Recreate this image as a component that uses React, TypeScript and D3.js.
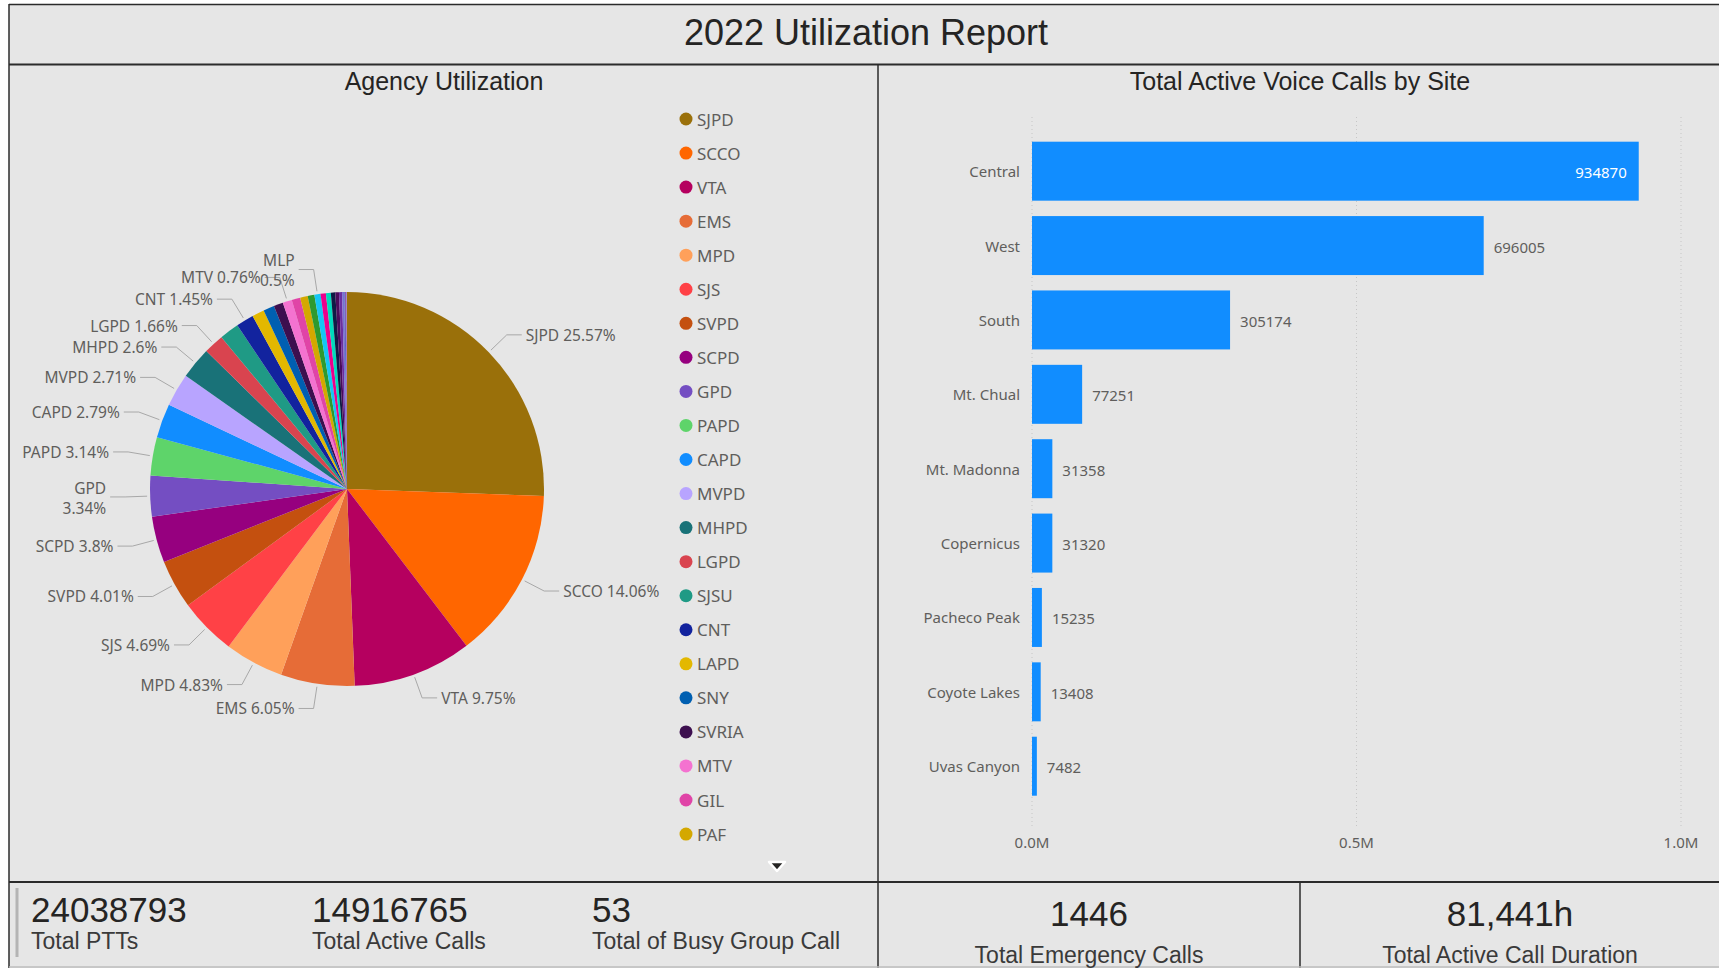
import React, { useEffect, useRef } from 'react';
import * as d3 from 'd3';

// Agency utilization (share of PTTs, %), ordered as in the legend
const agencies = [
  'SJPD', 'SCCO', 'VTA', 'EMS', 'MPD', 'SJS', 'SVPD', 'SCPD', 'GPD', 'PAPD', 'CAPD',
  'MVPD', 'MHPD', 'LGPD', 'SJSU', 'CNT', 'LAPD', 'SNY', 'SVRIA', 'MTV', 'GIL', 'PAF',
  'Agency 23', 'MLP', 'Agency 25', 'Agency 26', 'Agency 27', 'Agency 28', 'Agency 29',
  'Agency 30', 'Agency 31', 'Agency 32', 'Agency 33',
];
const agencyShare = [
  25.57, 14.06, 9.75, 6.05, 4.83, 4.69, 4.01, 3.8, 3.34, 3.14, 2.79,
  2.71, 2.6, 1.66, 1.6, 1.45, 1.0, 0.9, 0.77, 0.76, 0.7, 0.62,
  0.55, 0.5, 0.44, 0.4, 0.36, 0.3, 0.25, 0.18, 0.1, 0.07, 0.05,
];
const agencyColors = [
  '#9A700A', '#FF6600', '#B5005F', '#E66C37', '#FFA05A', '#FF4146', '#C4500F', '#96007F',
  '#744EC2', '#5ED46A', '#118DFF', '#B8A4FF', '#197278', '#D9444F', '#1F9A85', '#12239E',
  '#E3B800', '#005FB1', '#3D0F4F', '#F472D0', '#E044A7', '#D4A800', '#2E9A2E', '#15C6F4',
  '#EC008C', '#00DBBC', '#0F1B45', '#4A0B5B', '#6B2EA0', '#7A6FD0', '#4668C5', '#99008A',
  '#8F8FC8',
];
const labelledAgencies = [
  'SJPD', 'SCCO', 'VTA', 'EMS', 'MPD', 'SJS', 'SVPD', 'SCPD', 'GPD', 'PAPD', 'CAPD',
  'MVPD', 'MHPD', 'LGPD', 'CNT', 'MTV', 'MLP',
];
const wrappedLabels = ['GPD', 'MLP'];
const legendCount = 22;

// Total active voice calls by site
const sites = [
  'Central', 'West', 'South', 'Mt. Chual', 'Mt. Madonna', 'Copernicus',
  'Pacheco Peak', 'Coyote Lakes', 'Uvas Canyon',
];
const siteCalls = [934870, 696005, 305174, 77251, 31358, 31320, 15235, 13408, 7482];
const callTicks = [0, 500000, 1000000];

// KPI cards
const leftKpiValues = ['24038793', '14916765', '53'];
const leftKpiLabels = ['Total PTTs', 'Total Active Calls', 'Total of Busy Group Call'];
const rightKpiValues = ['1446', '81,441h'];
const rightKpiLabels = ['Total Emergency Calls', 'Total Active Call Duration'];

const W = 1719;
const H = 968;
const BG = '#E6E6E6';
const LINE = '#2B2B2B';
const TEXT = '#605E5C';
const SANS = '"Liberation Sans", Arial, sans-serif';
const UI = '"Segoe UI", "Noto Sans", sans-serif';

const App: React.FC = () => {
  const svgRef = useRef<SVGSVGElement>(null);

  useEffect(() => {
    if (!svgRef.current) return;
    const svg = d3.select(svgRef.current);
    svg.selectAll('*').remove();

    svg.append('rect').attr('width', W).attr('height', H).attr('fill', '#ffffff');
    svg.append('rect').attr('x', 9).attr('y', 4).attr('width', W - 9).attr('height', H - 4).attr('fill', BG);

    // Frame
    const frame = svg.append('g').attr('stroke', LINE).attr('fill', 'none');
    frame.append('line').attr('x1', 9).attr('x2', W).attr('y1', 4.5).attr('y2', 4.5).attr('stroke-width', 1.5);
    frame.append('line').attr('x1', 9).attr('x2', W).attr('y1', 64.5).attr('y2', 64.5).attr('stroke-width', 2);
    frame.append('line').attr('x1', 9).attr('x2', 9).attr('y1', 4).attr('y2', H).attr('stroke-width', 1.5);
    frame.append('line').attr('x1', 878).attr('x2', 878).attr('y1', 64).attr('y2', H).attr('stroke-width', 1.5);
    frame.append('line').attr('x1', 9).attr('x2', W).attr('y1', 882).attr('y2', 882).attr('stroke-width', 2);
    frame.append('line').attr('x1', 1300).attr('x2', 1300).attr('y1', 882).attr('y2', H).attr('stroke-width', 1.5);
    svg.append('line').attr('x1', 9).attr('x2', W).attr('y1', 967).attr('y2', 967)
      .attr('stroke', '#BDBDBD').attr('stroke-width', 1.5);

    // Titles
    svg.append('text')
      .attr('x', 866).attr('y', 32)
      .attr('text-anchor', 'middle').attr('dominant-baseline', 'central')
      .style('font-family', SANS).style('font-size', '36px').style('fill', '#252423')
      .text('2022 Utilization Report');
    svg.append('text')
      .attr('x', 444).attr('y', 81)
      .attr('text-anchor', 'middle').attr('dominant-baseline', 'central')
      .style('font-family', SANS).style('font-size', '25px').style('fill', '#252423')
      .text('Agency Utilization');
    svg.append('text')
      .attr('x', 1300).attr('y', 81)
      .attr('text-anchor', 'middle').attr('dominant-baseline', 'central')
      .style('font-family', SANS).style('font-size', '25px').style('fill', '#252423')
      .text('Total Active Voice Calls by Site');

    // Pie
    const data = agencies.map((name, i) => ({ name, value: agencyShare[i], color: agencyColors[i] }));
    const cx = 347;
    const cy = 489;
    const r = 197;
    const pie = d3.pie<{ name: string; value: number; color: string }>().sort(null).value(d => d.value);
    const arcs = pie(data);
    const arc = d3.arc<d3.PieArcDatum<{ name: string; value: number; color: string }>>()
      .innerRadius(0).outerRadius(r);

    const pg = svg.append('g').attr('transform', `translate(${cx},${cy})`);
    pg.selectAll('path')
      .data(arcs)
      .enter()
      .append('path')
      .attr('d', arc)
      .attr('fill', d => d.data.color);

    arcs.filter(a => labelledAgencies.includes(a.data.name)).forEach(a => {
      const mid = (a.startAngle + a.endAngle) / 2;
      const sx = Math.sin(mid);
      const sy = -Math.cos(mid);
      const side = sx >= 0 ? 1 : -1;
      const p0 = [sx * (r + 3), sy * (r + 3)];
      const p1 = [sx * (r + 25), sy * (r + 25)];
      const p2 = [p1[0] + side * 15, p1[1]];
      pg.append('polyline')
        .attr('points', [p0, p1, p2].map(p => p.join(',')).join(' '))
        .attr('fill', 'none')
        .attr('stroke', '#A8A8A8')
        .attr('stroke-width', 1);

      const pct = `${a.data.value}%`;
      const t = pg.append('text')
        .attr('x', p2[0] + side * 4)
        .attr('y', p2[1])
        .attr('text-anchor', side > 0 ? 'start' : 'end')
        .attr('dominant-baseline', 'central')
        .style('font-family', UI).style('font-size', '15.5px').style('fill', TEXT);
      if (wrappedLabels.includes(a.data.name)) {
        t.append('tspan').attr('x', p2[0] + side * 4).attr('dy', '-0.6em').text(a.data.name);
        t.append('tspan').attr('x', p2[0] + side * 4).attr('dy', '1.3em').text(pct);
      } else {
        t.text(`${a.data.name} ${pct}`);
      }
    });

    // Legend
    const legend = svg.append('g').attr('transform', 'translate(686,119)');
    data.slice(0, legendCount).forEach((d, i) => {
      const row = legend.append('g').attr('transform', `translate(0,${i * 34.05})`);
      row.append('circle').attr('r', 6.5).attr('fill', d.color);
      row.append('text')
        .attr('x', 11).attr('y', 0)
        .attr('dominant-baseline', 'central')
        .style('font-family', UI).style('font-size', '17px').style('fill', TEXT)
        .text(d.name);
    });
    // scroll arrow
    svg.append('path')
      .attr('d', 'M769,862 L785,862 L777,871 Z')
      .attr('fill', '#252423')
      .attr('stroke', '#ffffff')
      .attr('stroke-width', 2.5)
      .attr('stroke-linejoin', 'round');

    // Bar chart
    const y = d3.scaleBand().domain(sites).range([134, 803.4]).paddingInner(0.207).paddingOuter(0.1035);
    const x = d3.scaleLinear().domain([0, 1000000]).range([1032, 1681]);

    const grid = svg.append('g');
    callTicks.forEach(t => {
      grid.append('line')
        .attr('x1', x(t)).attr('x2', x(t))
        .attr('y1', 117).attr('y2', 827)
        .attr('stroke', '#C6C6C6')
        .attr('stroke-width', 1)
        .attr('stroke-dasharray', '1,3');
      grid.append('text')
        .attr('x', x(t)).attr('y', 842)
        .attr('text-anchor', 'middle').attr('dominant-baseline', 'central')
        .style('font-family', UI).style('font-size', '15px').style('fill', TEXT)
        .text(`${(t / 1000000).toFixed(1)}M`);
    });

    const bars = svg.append('g');
    sites.forEach((s, i) => {
      const v = siteCalls[i];
      const y0 = y(s) || 0;
      const mid = y0 + y.bandwidth() / 2;
      bars.append('rect')
        .attr('x', x(0)).attr('y', y0)
        .attr('width', x(v) - x(0)).attr('height', y.bandwidth())
        .attr('fill', '#118DFF');
      bars.append('text')
        .attr('x', x(0) - 12).attr('y', mid)
        .attr('text-anchor', 'end').attr('dominant-baseline', 'central')
        .style('font-family', UI).style('font-size', '15px').style('fill', TEXT)
        .text(s);
      const inside = x(v) + 70 > x.range()[1];
      bars.append('text')
        .attr('x', inside ? x(v) - 12 : x(v) + 10).attr('y', mid + 1)
        .attr('text-anchor', inside ? 'end' : 'start').attr('dominant-baseline', 'central')
        .style('font-family', UI).style('font-size', '15px')
        .style('fill', inside ? '#ffffff' : TEXT)
        .text(String(v));
    });

    // KPI cards
    svg.append('rect').attr('x', 15.5).attr('y', 888).attr('width', 3).attr('height', 69).attr('fill', '#B4B4B4');
    const leftX = [31, 312, 592];
    leftKpiValues.forEach((v, i) => {
      svg.append('text')
        .attr('x', leftX[i]).attr('y', 922)
        .style('font-family', SANS).style('font-size', '35px').style('fill', '#252423')
        .text(v);
      svg.append('text')
        .attr('x', leftX[i]).attr('y', 949)
        .style('font-family', SANS).style('font-size', '23px').style('fill', '#3A3A3A')
        .text(leftKpiLabels[i]);
    });
    const rightX = [1089, 1510];
    rightKpiValues.forEach((v, i) => {
      svg.append('text')
        .attr('x', rightX[i]).attr('y', 926)
        .attr('text-anchor', 'middle')
        .style('font-family', SANS).style('font-size', '35px').style('fill', '#252423')
        .text(v);
      svg.append('text')
        .attr('x', rightX[i]).attr('y', 963)
        .attr('text-anchor', 'middle')
        .style('font-family', SANS).style('font-size', '23px').style('fill', '#3A3A3A')
        .text(rightKpiLabels[i]);
    });
  }, []);

  return (
    <div style={{ position: 'absolute', left: 0, top: 0, width: W, height: H, overflow: 'hidden' }}>
      <svg ref={svgRef} width={W} height={H}></svg>
    </div>
  );
};

export default App;
